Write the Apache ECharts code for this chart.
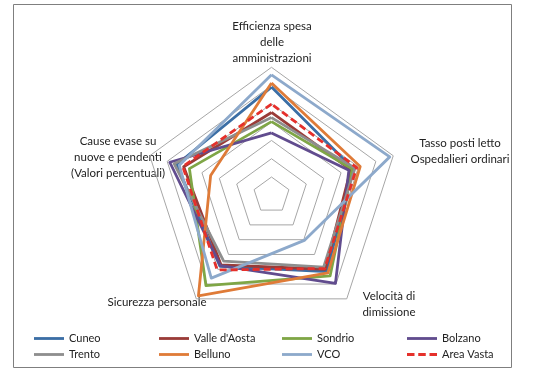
<!DOCTYPE html>
<html><head><meta charset="utf-8">
<script src="https://cdn.jsdelivr.net/npm/echarts@6/dist/echarts.min.js"></script>
<style>html,body{margin:0;padding:0;background:#fff}#c{width:549px;height:379px}</style>
</head><body><div id="c"></div>
<script>
// indicator order (ECharts counterclockwise from top)
const indicators = ['Efficienza spesa\ndelle\namministrazioni', 'Cause evase su\nnuove e pendenti\n(Valori percentuali)', 'Sicurezza personale', 'Velocità di\ndimissione', 'Tasso posti letto\nOspedalieri ordinari'];
const seriesNames = ['Cuneo', "Valle d'Aosta", 'Sondrio', 'Bolzano', 'Trento', 'Belluno', 'VCO', 'Area Vasta'];
// values: [Efficienza, Cause evase, Sicurezza, Velocità, Tasso posti letto]
const cuneo   = [5.92, 5.45, 4.8, 5.15, 4.7];
const valle   = [4.53, 5.05, 4.7, 5.0, 4.55];
const sondrio = [4.03, 4.72, 6.1, 5.45, 4.65];
const bolzano = [3.41, 5.85, 4.75, 5.95, 4.45];
const trento  = [4.25, 5.6, 4.45, 4.85, 4.8];
const belluno = [6.14, 3.5, 6.8, 5.25, 5.1];
const vco     = [6.59, 5.3, 5.6, 3.05, 6.8];
const areaVasta = [4.99, 5.1, 5.05, 4.95, 4.9];
const allValues = [cuneo, valle, sondrio, bolzano, trento, belluno, vco, areaVasta];
const colors = ['#3B6EA5', '#9A3B38', '#7FA646', '#614C8E', '#8E8E8E', '#DF7B38', '#8DA9CB', '#E5302B'];

const chart = echarts.init(document.getElementById('c'));
const lineIcon = 'path://M0,0L32,0L32,3L0,3Z';
const dashIcon = 'path://M0,0L8,0L8,3L0,3ZM12,0L20,0L20,3L12,3ZM24,0L32,0L32,3L24,3Z';
const legendCols = [[0,4],[1,5],[2,6],[3,7]];
const legendX = [30, 155, 278, 403];
const legends = legendCols.map((col, ci) => ({
  orient: 'vertical', left: legendX[ci] - 1, top: 328, itemGap: 5,
  itemWidth: 30, itemHeight: 3, selectedMode: false,
  textStyle: {fontFamily: 'Lato', fontSize: 11, color: '#222'},
  data: col.map(i => ({name: seriesNames[i], icon: i === 7 ? dashIcon : lineIcon}))
}));

const namePos = [
  {x: 272, y: 18, align: 'center'},
  {x: 118, y: 133, align: 'center'},
  {x: 157, y: 294, align: 'center'},
  {x: 389, y: 288, align: 'center'},
  {x: 460, y: 135, align: 'center'}
];

chart.setOption({
  animation: false,
  color: colors,
  legend: legends,
  radar: {
    center: [271.5, 195.3], radius: 128, startAngle: 90,
    shape: 'polygon', splitNumber: 7,
    indicator: indicators.map(n => ({name: n, max: 7, min: 0})),
    axisName: {show: false},
    axisLine: {show: false},
    axisTick: {show: false},
    splitArea: {show: false},
    splitLine: {lineStyle: {color: '#A6A6A6', width: 1}}
  },
  graphic: [
    {type: 'rect', shape: {x: 13.5, y: 4.5, width: 498, height: 363}, style: {fill: 'none', stroke: '#7F7F7F', lineWidth: 1}, z: -1}
  ].concat(indicators.map((n, i) => ({
    type: 'text', x: namePos[i].x, y: namePos[i].y,
    style: {text: n, fill: '#222', font: '11.5px Lato', textAlign: namePos[i].align, lineHeight: 16}
  }))),
  series: seriesNames.map((name, i) => ({
    type: 'radar', name: name, symbol: 'none',
    lineStyle: {width: 2.8, color: colors[i], type: i === 7 ? [7, 4] : 'solid'},
    itemStyle: {color: colors[i]},
    data: [{value: allValues[i], name: name}]
  }))
});
</script></body></html>
